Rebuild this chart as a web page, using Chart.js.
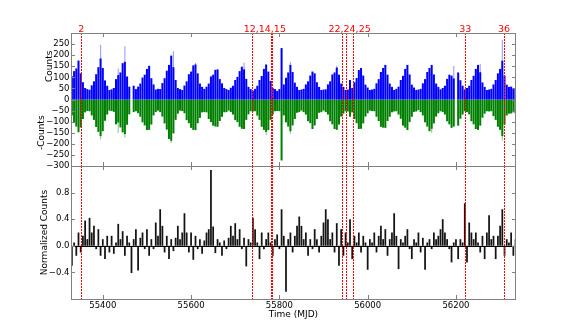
<!DOCTYPE html>
<html><head><meta charset="utf-8">
<script src="https://cdn.jsdelivr.net/npm/chart.js@4.4.1/dist/chart.umd.min.js"></script>
<style>
html,body{margin:0;padding:0;background:#fff;width:573px;height:333px;overflow:hidden}
canvas{position:absolute;left:0;top:0}
</style></head>
<body>
<canvas id="c1" width="573" height="333"></canvas>
<canvas id="c2" width="573" height="333"></canvas>
<script>
// ---- data ----
const binStart = 55330, binDays = 5;           // 5-day bins (MJD)
const blueCounts = [
105,128,140,175,118,78,52,47,44,64,
82,114,146,185,142,86,62,43,46,52,
92,110,122,164,170,104,58,0,62,47,
58,72,99,112,138,152,96,68,45,48,
47,74,96,130,156,198,146,88,52,47,
43,63,82,114,126,154,158,118,72,57,
48,58,72,104,112,134,136,92,73,52,
47,43,53,62,88,102,128,148,136,93,
57,47,40,48,62,88,106,138,158,126,
84,52,47,39,47,232,68,98,122,156,
124,76,57,43,45,48,68,82,108,126,
118,78,57,43,45,46,68,82,113,122,
144,112,72,57,43,45,88,52,78,97,
133,142,108,67,54,43,45,48,73,92,
124,142,156,112,72,57,43,48,58,88,
107,138,156,113,67,54,43,45,48,73,
92,124,142,156,113,72,57,46,52,62,
93,112,108,95,0,122,87,62,46,52,
62,88,107,138,156,123,77,57,43,45,
48,68,88,118,138,175,108,67,57,58,
52,46];
const greenCounts = [
-72,-104,-122,-148,-126,-88,-58,-52,-53,-72,
-92,-124,-146,-165,-143,-96,-68,-50,-52,-56,
-112,-104,-126,-148,-156,-114,-67,0,-57,-53,
-62,-78,-103,-117,-138,-137,-113,-72,-57,-50,
-57,-77,-108,-136,-178,-186,-153,-92,-64,-50,
-52,-62,-93,-107,-128,-137,-138,-107,-83,-58,
-57,-58,-88,-102,-118,-122,-123,-97,-78,-58,
-57,-50,-57,-68,-93,-102,-123,-132,-133,-92,
-67,-53,-54,-53,-73,-92,-123,-137,-146,-138,
-92,-67,-53,-52,-53,-275,-72,-103,-122,-143,
-117,-88,-60,-57,-50,-57,-68,-98,-107,-133,
-117,-88,-60,-57,-50,-57,-68,-98,-112,-133,
-137,-113,-77,-64,-53,-54,-78,-58,-88,-107,
-133,-132,-108,-77,-62,-50,-52,-53,-78,-97,
-123,-127,-128,-97,-78,-58,-54,-53,-68,-87,
-118,-127,-138,-102,-78,-56,-54,-48,-57,-72,
-103,-122,-143,-132,-108,-77,-62,-53,-57,-68,
-98,-112,-128,-122,0,-118,-87,-68,-53,-57,
-67,-98,-112,-133,-137,-118,-82,-64,-53,-54,
-53,-75,-92,-123,-137,-165,-113,-72,-64,-63,
-58,-62];
// lighter single-bin excursions above the bulk of the bars
const blueSpikeMjd = [55345, 55395, 55435, 55450, 55560, 55610, 55720, 55825, 55930, 56195, 56255, 56305];
const blueSpikeVal = [178, 247, 140, 240, 218, 165, 166, 170, 152, 151, 160, 269];
const greenSpikeMjd = [55395, 55435, 55450, 55555, 55770, 55825, 56145, 56305];
const greenSpikeVal = [-180, -150, -172, -196, -160, -155, -150, -185];
const normCounts = [
-0.30,0.05,-0.15,0.20,-0.10,0.15,0.38,0.10,0.42,0.20,
0.30,-0.05,0.25,-0.15,0.10,-0.20,0.15,-0.10,0.15,-0.12,
0.05,0.33,0.10,0.22,-0.15,0.15,0.05,-0.41,0.10,0.25,
-0.37,0.12,0.20,-0.05,0.25,-0.15,0.10,-0.05,0.35,0.15,
0.55,0.30,-0.10,0.15,-0.20,0.10,-0.08,0.12,0.30,0.10,
0.20,0.49,0.20,-0.10,0.20,-0.21,0.15,-0.05,0.10,-0.12,
0.08,0.20,0.25,1.14,0.29,-0.11,0.10,0.05,-0.15,0.08,
-0.05,0.12,0.30,0.15,0.34,0.10,0.25,-0.05,0.12,-0.31,
0.10,0.05,0.42,0.25,0.05,-0.20,0.20,-0.05,0.10,0.20,
0.05,-0.15,0.10,0.17,-0.05,0.55,0.15,-0.69,0.10,0.20,
-0.10,0.15,0.30,0.44,0.30,0.10,0.20,-0.15,0.10,-0.05,
0.25,0.10,-0.10,0.15,0.35,0.55,0.40,0.10,0.20,-0.10,
0.34,-0.30,0.25,-0.15,0.20,0.05,0.40,-0.20,0.15,0.05,
0.20,-0.10,0.15,0.05,-0.36,0.10,0.05,0.20,-0.10,0.15,
0.30,0.10,0.25,-0.15,0.10,0.20,0.49,0.15,-0.35,0.10,
0.05,0.15,0.25,-0.05,-0.20,0.10,0.05,0.20,-0.10,0.12,
-0.36,0.05,0.10,-0.05,0.20,0.10,0.15,0.25,0.40,0.20,
0.10,-0.05,-0.25,0.05,0.10,-0.20,0.10,0.05,0.64,-0.25,
0.35,0.20,0.10,0.20,0.05,-0.10,0.15,-0.20,0.20,0.46,
0.10,0.15,-0.20,0.15,0.30,0.55,-0.15,0.10,0.05,0.20,
-0.15,0.10];
const eventMjd = [55351, 55739, 55782, 55784, 55942, 55950, 55966, 56220, 56308];
const eventLabels = ['2', '12,14,15', '22,24,25', '33', '36'];
const eventLabelMjd = [55351, 55767, 55959, 56221, 56309];
const xTickValues = [55400, 55600, 55800, 56000, 56200];
const xRange = [55328, 56336];

// ---- helpers ----
const mjd = blueCounts.map((_, i) => binStart + i * binDays);
const FONT = 'DejaVu Sans';
const minus = s => String(s).replace('-', '\u2212');
const GRAY = '#808080';

const deco = {
  id: 'deco',
  afterDraw(chart, args, o) {
    const {ctx, chartArea: a, scales: {x, y}} = chart;
    ctx.save();
    if (o.zero) {
      const py = Math.round(y.getPixelForValue(0)) + 0.5;
      ctx.strokeStyle = '#000'; ctx.lineWidth = 1;
      ctx.beginPath(); ctx.moveTo(a.left, py); ctx.lineTo(a.right, py); ctx.stroke();
    }
    // event lines
    ctx.strokeStyle = 'rgb(255,0,0)'; ctx.lineWidth = 1; ctx.setLineDash([2, 1]);
    eventMjd.forEach(m => {
      const px = Math.round(x.getPixelForValue(m)) + 0.5;
      ctx.beginPath(); ctx.moveTo(px, a.top); ctx.lineTo(px, a.bottom); ctx.stroke();
    });
    ctx.setLineDash([]);
    if (o.labels) {
      ctx.fillStyle = '#ff0000'; ctx.font = '9.5px "' + FONT + '"';
      ctx.textAlign = 'center'; ctx.textBaseline = 'alphabetic';
      eventLabels.forEach((t, i) => ctx.fillText(t, x.getPixelForValue(eventLabelMjd[i]), a.top - 1.5));
    }
    // border
    ctx.strokeStyle = GRAY; ctx.lineWidth = 1;
    ctx.strokeRect(Math.round(a.left) + 0.5, Math.round(a.top) + 0.5, Math.round(a.right - a.left) - 1, Math.round(a.bottom - a.top));
    // inward ticks
    ctx.beginPath();
    xTickValues.forEach(v => {
      const px = Math.round(x.getPixelForValue(v)) + 0.5;
      ctx.moveTo(px, a.top); ctx.lineTo(px, a.top + 4);
      ctx.moveTo(px, a.bottom); ctx.lineTo(px, a.bottom - 4);
    });
    y.ticks.forEach(t => {
      const py = Math.round(y.getPixelForValue(t.value)) + 0.5;
      ctx.moveTo(a.left, py); ctx.lineTo(a.left + 4, py);
      ctx.moveTo(a.right, py); ctx.lineTo(a.right - 4, py);
    });
    ctx.stroke();
    // axis titles
    ctx.fillStyle = '#000'; ctx.font = '9px "' + FONT + '"';
    ctx.textAlign = 'center'; ctx.textBaseline = 'middle';
    (o.ytitles || []).forEach(tt => {
      ctx.save(); ctx.translate(tt.x, y.getPixelForValue(tt.v)); ctx.rotate(-Math.PI / 2);
      ctx.fillText(tt.text, 0, 0); ctx.restore();
    });
    if (o.xtitle) ctx.fillText(o.xtitle, (a.left + a.right) / 2, 314.5);
    ctx.restore();
  }
};

const barStyle = {borderWidth: 0, barPercentage: 0.92, categoryPercentage: 1, grouped: false};

// ---- top panel ----
new Chart(document.getElementById('c1'), {
  type: 'bar',
  data: {datasets: [
    {data: mjd.map((m, i) => ({x: m, y: blueCounts[i]})), backgroundColor: '#0000ff', ...barStyle},
    {data: mjd.map((m, i) => ({x: m, y: greenCounts[i]})), backgroundColor: '#008000', ...barStyle},
    {data: blueSpikeMjd.map((m, i) => ({x: m, y: blueSpikeVal[i]})), backgroundColor: 'rgba(80,80,255,0.55)', ...barStyle, barPercentage: 0.5},
    {data: greenSpikeMjd.map((m, i) => ({x: m, y: greenSpikeVal[i]})), backgroundColor: 'rgba(60,150,60,0.55)', ...barStyle, barPercentage: 0.5}
  ]},
  options: {
    responsive: false, animation: false, devicePixelRatio: 1,
    layout: {padding: {left: 0, right: 57, top: 33, bottom: 167}},
    plugins: {legend: {display: false}, tooltip: {enabled: false},
      deco: {labels: true, ytitles: [{text: 'Counts', v: 150, x: 49.5}, {text: '-Counts', v: -150, x: 42}]}},
    scales: {
      x: {type: 'linear', min: xRange[0], max: xRange[1], offset: false, display: false},
      y: {min: -300, max: 300,
        grid: {display: false, drawTicks: false}, border: {display: false},
        ticks: {stepSize: 50, autoSkip: false, padding: 1.5, color: '#000', font: {family: FONT, size: 8.5},
          callback: v => v === 300 ? '' : minus(v)},
        afterFit: s => { s.width = 71; }}
    }
  },
  plugins: [deco]
});

// ---- bottom panel ----
new Chart(document.getElementById('c2'), {
  type: 'bar',
  data: {datasets: [
    {data: mjd.map((m, i) => ({x: m, y: normCounts[i]})), backgroundColor: 'rgba(0,0,0,0.92)', borderWidth: 0,
     barPercentage: 0.8, categoryPercentage: 1}
  ]},
  options: {
    responsive: false, animation: false, devicePixelRatio: 1,
    layout: {padding: {left: 0, right: 57, top: 166, bottom: 0}},
    plugins: {legend: {display: false}, tooltip: {enabled: false},
      deco: {zero: true, xtitle: 'Time (MJD)', ytitles: [{text: 'Normalized Counts', v: 0.2, x: 44.5}]}},
    scales: {
      x: {type: 'linear', min: xRange[0], max: xRange[1], offset: false,
        grid: {display: false, drawTicks: false}, border: {display: false},
        afterBuildTicks: s => { s.ticks = xTickValues.map(v => ({value: v})); },
        ticks: {autoSkip: false, maxRotation: 0, padding: 1.5, color: '#000', font: {family: FONT, size: 8.5},
          callback: v => String(v)},
        afterFit: s => { s.height = 34; }},
      y: {min: -0.8, max: 1.2,
        grid: {display: false, drawTicks: false}, border: {display: false},
        ticks: {stepSize: 0.4, autoSkip: false, padding: 1.5, color: '#000', font: {family: FONT, size: 8.5},
          callback: v => (Math.abs(v + 0.8) < 1e-6 || Math.abs(v - 1.2) < 1e-6) ? '' : minus((Math.abs(v) < 1e-9 ? 0 : v).toFixed(1))},
        afterFit: s => { s.width = 71; }}
    }
  },
  plugins: [deco]
});
</script>
</body></html>
